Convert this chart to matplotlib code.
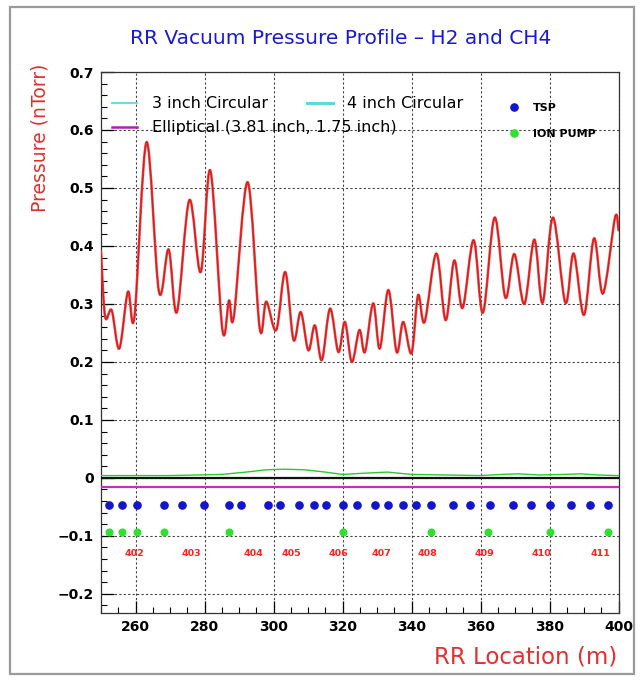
import matplotlib
matplotlib.use("Agg")
import matplotlib.pyplot as plt
from matplotlib.lines import Line2D
from matplotlib.patches import Rectangle, PathPatch
from matplotlib.path import Path
from matplotlib.ticker import MultipleLocator, FixedLocator, FixedFormatter

# ---------------- data ----------------
pressure_x = [250.0, 251.2, 253.1, 255.3, 257.8, 259.7, 263.2, 266.8, 269.6, 272.0,
              275.6, 278.9, 281.7, 285.2, 287.1, 288.5, 292.5, 296.0, 297.9, 300.8,
              303.4, 305.8, 307.9, 310.1, 312.0, 314.0, 316.4, 318.8, 320.7, 322.7,
              324.9, 326.5, 328.9, 330.8, 333.3, 335.7, 337.6, 340.0, 341.9, 343.8,
              347.2, 349.9, 352.4, 354.8, 358.0, 360.7, 364.1, 367.2, 369.8, 372.7,
              375.6, 378.0, 381.0, 384.6, 387.0, 390.0, 392.9, 395.5, 399.0, 400.0]
pressure_y = [0.390, 0.278, 0.289, 0.223, 0.321, 0.278, 0.579, 0.321, 0.394, 0.286,
              0.479, 0.355, 0.530, 0.255, 0.306, 0.278, 0.510, 0.258, 0.304, 0.255,
              0.355, 0.238, 0.286, 0.220, 0.263, 0.203, 0.292, 0.217, 0.269, 0.200,
              0.255, 0.217, 0.301, 0.223, 0.324, 0.217, 0.269, 0.215, 0.315, 0.269,
              0.387, 0.272, 0.375, 0.293, 0.410, 0.285, 0.449, 0.311, 0.386, 0.300,
              0.411, 0.302, 0.449, 0.302, 0.387, 0.281, 0.413, 0.318, 0.449, 0.427]

green_x = [250, 270, 285, 292, 298, 303, 309, 315, 320, 326, 333, 340, 350, 360, 366, 371, 377, 384, 389, 394, 400]
green_y = [0.004, 0.004, 0.006, 0.010, 0.014, 0.015, 0.014, 0.010, 0.006, 0.008, 0.010, 0.006, 0.005, 0.004, 0.006, 0.007, 0.005, 0.006, 0.007, 0.005, 0.004]

zero_x = [250, 400]
zero_y = [0.0, 0.0]
elliptical_y = [-0.015, -0.015]

tsp_x = [252.4, 256.2, 260.3, 268.4, 273.6, 279.8, 287.2, 290.6, 298.3, 301.9,
         307.4, 311.6, 315.2, 320.0, 324.3, 329.5, 333.3, 337.5, 341.2, 345.7,
         352.0, 357.0, 362.8, 369.4, 374.6, 380.2, 386.2, 391.6, 397.1]
tsp_level = -0.046
ion_x = [252.4, 256.2, 260.3, 268.4, 287.2, 320.0, 345.7, 362.3, 380.0, 397.1]
ion_level = -0.093

sector_labels = ["402", "403", "404", "405", "406", "407", "408", "409", "410", "411"]
sector_x = [259.7, 276.3, 294.2, 305.3, 318.7, 331.4, 344.5, 361.1, 377.8, 394.7]
sector_level = -0.131

xticks = [260, 280, 300, 320, 340, 360, 380, 400]
xtick_labels = ["260", "280", "300", "320", "340", "360", "380", "400"]
yticks = [-0.2, -0.1, 0.0, 0.1, 0.2, 0.3, 0.4, 0.5, 0.6, 0.7]
ytick_labels = ["\u22120.2", "\u22120.1", "0", "0.1", "0.2", "0.3", "0.4", "0.5", "0.6", "0.7"]


def smooth_path(xs, ys):
    """Catmull-Rom curve through the given points, as cubic Bezier path."""
    pts = list(zip(xs, ys))
    n = len(pts)
    verts = [pts[0]]
    codes = [Path.MOVETO]
    for i in range(n - 1):
        p0 = pts[i - 1] if i > 0 else pts[i]
        p1 = pts[i]
        p2 = pts[i + 1]
        p3 = pts[i + 2] if i + 2 < n else pts[i + 1]
        c1 = (p1[0] + (p2[0] - p0[0]) / 6.0, p1[1] + (p2[1] - p0[1]) / 6.0)
        c2 = (p2[0] - (p3[0] - p1[0]) / 6.0, p2[1] - (p3[1] - p1[1]) / 6.0)
        verts += [c1, c2, p2]
        codes += [Path.CURVE4, Path.CURVE4, Path.CURVE4]
    return Path(verts, codes)


# ---------------- figure ----------------
W, H = 644, 681
fig = plt.figure(figsize=(W / 100, H / 100), dpi=100)
fig.patch.set_facecolor("white")
fig.patches.append(Rectangle((10 / W, 7 / H), 624 / W, 667 / H, transform=fig.transFigure,
                             fill=False, edgecolor="#9a9a9a", linewidth=1.6))

ax = fig.add_axes([101 / W, 1 - 613 / H, 517.5 / W, 541 / H])
ax.set_xlim(250, 400)
ax.set_ylim(-0.233, 0.7)

ax.xaxis.set_major_locator(FixedLocator(xticks))
ax.xaxis.set_major_formatter(FixedFormatter(xtick_labels))
ax.yaxis.set_major_locator(FixedLocator(yticks))
ax.yaxis.set_major_formatter(FixedFormatter(ytick_labels))
ax.xaxis.set_minor_locator(MultipleLocator(5))
ax.yaxis.set_minor_locator(MultipleLocator(0.02))
ax.tick_params(which="both", direction="in", top=False, right=False, labelsize=10, colors="black")
ax.tick_params(which="major", length=9, width=0.9, pad=5)
ax.tick_params(which="minor", length=4.5, width=0.8)
for lbl in ax.get_xticklabels() + ax.get_yticklabels():
    lbl.set_fontweight("semibold")
for sp in ax.spines.values():
    sp.set_linewidth(0.9)
    sp.set_color("#333333")

ax.grid(True, which="major", color="#444444", linestyle=(0, (2, 2)), linewidth=0.8)
ax.set_axisbelow(True)

# curves
ax.plot(zero_x, zero_y, color="#101010", linewidth=1.6, zorder=3)
ax.plot(green_x, green_y, color="#2ec82e", linewidth=1.0, zorder=3)
ax.plot(zero_x, elliptical_y, color="#c030c0", linewidth=1.6, zorder=3)
red_path = smooth_path(pressure_x, pressure_y)
ax.add_patch(PathPatch(red_path, fill=False, edgecolor="#f23434", linewidth=1.8,
                       joinstyle="round", capstyle="round", zorder=4, transform=ax.transData))
ax.add_patch(PathPatch(red_path, fill=False, edgecolor="#a81818", linewidth=0.4,
                       joinstyle="round", zorder=5, transform=ax.transData))

# pumps
ax.plot(tsp_x, [tsp_level] * len(tsp_x), linestyle="none", marker="o", markersize=5.2,
        color="#1414d0", zorder=5)
ax.plot(ion_x, [ion_level] * len(ion_x), linestyle="none", marker="o", markersize=4.8,
        color="#30e030", zorder=5)
for lab, sx in zip(sector_labels, sector_x):
    ax.text(sx, sector_level, lab, color="#ff2020", fontsize=6.8, fontweight="bold",
            ha="center", va="center", zorder=6)

# legends
h3 = Line2D([], [], color="#70d8e0", linewidth=1.4)
h4 = Line2D([], [], color="#60d8e0", linewidth=2.2)
he = Line2D([], [], color="#b020b0", linewidth=1.8)
leg_common = dict(frameon=False, fontsize=11.5, handlelength=1.6, handletextpad=0.9,
                  labelspacing=0.55, borderpad=0, borderaxespad=0, loc="upper left")
legA = ax.legend([h3, he], ["3 inch Circular", "Elliptical (3.81 inch, 1.75 inch)"],
                 bbox_to_anchor=(0.021, 0.955), **leg_common)
ax.add_artist(legA)
legB = ax.legend([h4], ["4 inch Circular"], bbox_to_anchor=(0.398, 0.955), **leg_common)
ax.add_artist(legB)
ht = Line2D([], [], linestyle="none", marker="o", markersize=5.2, color="#1414d0")
hi = Line2D([], [], linestyle="none", marker="o", markersize=5.2, color="#30e030")
legC = ax.legend([ht, hi], ["TSP", "ION PUMP"], frameon=False, loc="upper left",
                 bbox_to_anchor=(0.788, 0.943), borderpad=0, borderaxespad=0,
                 handlelength=1.0, handletextpad=1.2, labelspacing=1.45, numpoints=1,
                 prop={"size": 8, "weight": "bold"})

# titles
fig.text(341 / W, 1 - 38 / H, "RR Vacuum Pressure Profile \u2013 H2 and CH4", color="#1a1ad0",
         fontsize=14.5, ha="center", va="center")
fig.text(40 / W, 1 - 138 / H, "Pressure (nTorr)", color="#e03030", fontsize=13.5,
         rotation=90, ha="center", va="center")
fig.text(617 / W, 1 - 657 / H, "RR Location (m)", color="#e03030", fontsize=16.5,
         ha="right", va="center")

fig.savefig("out.png", dpi=100)
